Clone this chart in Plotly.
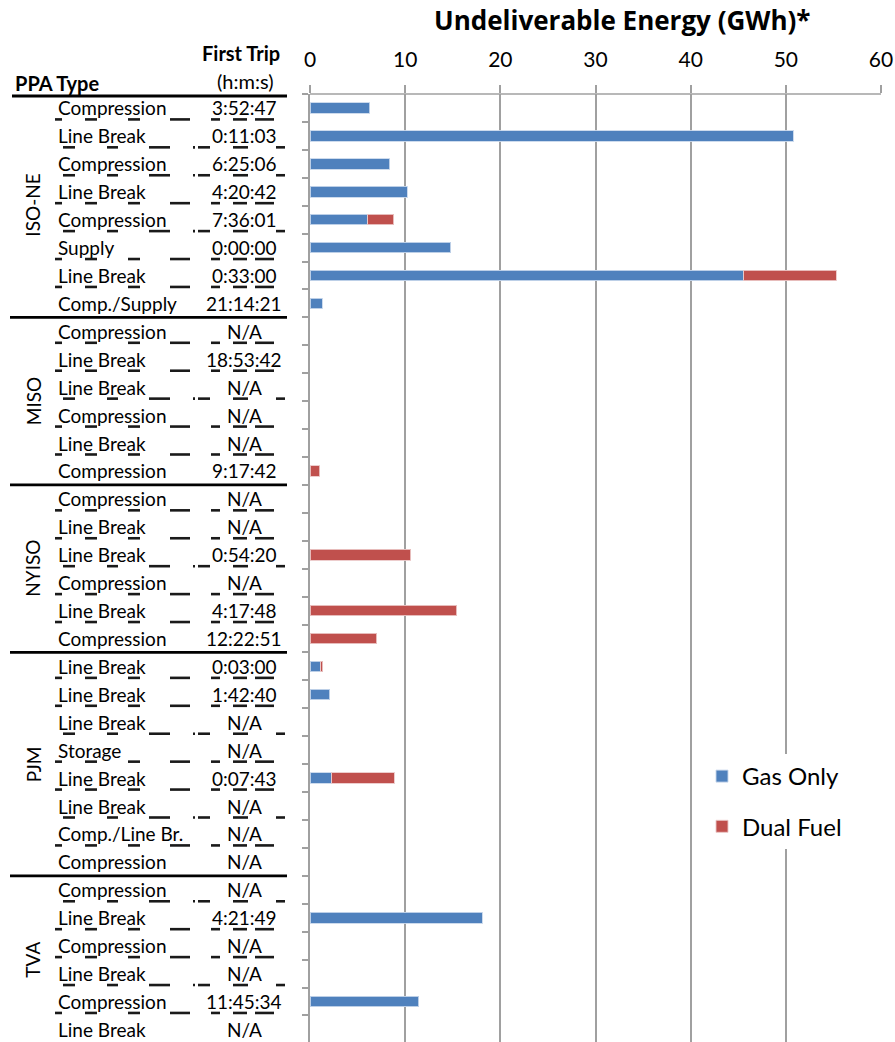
import plotly.graph_objects as go

# ---------------- data ----------------
groups = ["ISO-NE", "MISO", "NYISO", "PJM", "TVA"]
group_sizes = [8, 6, 6, 8, 6]
ppa_types = [
    "Compression", "Line Break", "Compression", "Line Break", "Compression", "Supply", "Line Break", "Comp./Supply",
    "Compression", "Line Break", "Line Break", "Compression", "Line Break", "Compression",
    "Compression", "Line Break", "Line Break", "Compression", "Line Break", "Compression",
    "Line Break", "Line Break", "Line Break", "Storage", "Line Break", "Line Break", "Comp./Line Br.", "Compression",
    "Compression", "Line Break", "Compression", "Line Break", "Compression", "Line Break",
]
first_trip = [
    "3:52:47", "0:11:03", "6:25:06", "4:20:42", "7:36:01", "0:00:00", "0:33:00", "21:14:21",
    "N/A", "18:53:42", "N/A", "N/A", "N/A", "9:17:42",
    "N/A", "N/A", "0:54:20", "N/A", "4:17:48", "12:22:51",
    "0:03:00", "1:42:40", "N/A", "N/A", "0:07:43", "N/A", "N/A", "N/A",
    "N/A", "4:21:49", "N/A", "N/A", "11:45:34", "N/A",
]
gas_only = [
    6.3, 50.8, 8.4, 10.2, 6.05, 14.8, 45.6, 1.3,
    0, 0, 0, 0, 0, 0,
    0, 0, 0, 0, 0, 0,
    1.15, 2.1, 0, 0, 2.3, 0, 0, 0,
    0, 18.1, 0, 0, 11.45, 0,
]
dual_fuel = [
    0, 0, 0, 0, 2.75, 0, 9.7, 0,
    0, 0, 0, 0, 0, 1.05,
    0, 0, 10.6, 0, 15.4, 7.0,
    0.17, 0, 0, 0, 6.55, 0, 0, 0,
    0, 0, 0, 0, 0, 0,
]
x_ticks = [0, 10, 20, 30, 40, 50, 60]
# underline dash pattern per row ("A", "B" or None)
dash_pattern = [
    "A", "B", "B", "A", "B", "A", "A", None,
    "A", "A", "B", "A", "A", None,
    "A", "A", "B", "A", "A", None,
    "A", "A", "B", "A", "A", "B", "A", None,
    "B", "A", "A", "B", "A", None,
]

# ---------------- layout constants ----------------
W, H = 895, 1042
ML, MR, MT, MB = 310, 14, 94, 0
PW = W - ML - MR
PH = H - MT - MB
FONT = "Lato, 'Open sans', sans-serif"
TFONT = "'Open Sans', sans-serif"
BLUE = "#4F81BD"
RED = "#C0504D"
GRID = "#A0A0A0"

def px_to_xpaper(px):
    return (px - ML) / PW

def py_to_ypaper(py):
    return (H - MB - py) / PH

idx = list(range(len(ppa_types)))

fig = go.Figure()
fig.add_trace(go.Bar(
    y=idx, x=[v if v else None for v in gas_only], orientation="h", name="Gas Only",
    marker=dict(color=BLUE, line=dict(color="rgba(200,215,235,0.9)", width=1)),
    legendgroup="g1",
))
fig.add_trace(go.Bar(
    y=idx, x=[v if v else None for v in dual_fuel], orientation="h", name="Dual Fuel",
    marker=dict(color=RED, line=dict(color="rgba(235,200,200,0.9)", width=1)),
    legendgroup="g2",
))

annotations = []
shapes = []

# row labels
for i, (t, ft) in enumerate(zip(ppa_types, first_trip)):
    annotations.append(dict(x=px_to_xpaper(56), y=i, xref="paper", yref="y", text=t,
                            showarrow=False, xanchor="left", yanchor="middle",
                            font=dict(family=FONT, size=19, color="#000")))
    annotations.append(dict(x=px_to_xpaper(244), y=i, xref="paper", yref="y", text=ft,
                            showarrow=False, xanchor="center", yanchor="middle",
                            font=dict(family=FONT, size=19, color="#000")))

# underline dashes
SEG_A = [(55, 62), (85, 97), (128, 140), (170, 190), (211, 220), (233, 247), (255, 274)]
SEG_B = [(63, 75), (107, 118), (149, 170), (193, 195), (198, 210), (233, 248), (276, 285)]
for i, p in enumerate(dash_pattern):
    if p is None:
        continue
    segs = SEG_A if p == "A" else SEG_B
    for a, b in segs:
        shapes.append(dict(type="line", xref="paper", yref="y",
                           x0=px_to_xpaper(a), x1=px_to_xpaper(b), y0=i + 0.41, y1=i + 0.41,
                           line=dict(color="#1a1a1a", width=2.6)))

# group labels and separators
start = 0
for g, n in zip(groups, group_sizes):
    annotations.append(dict(x=px_to_xpaper(33), y=start + (n - 1) / 2, xref="paper", yref="y",
                            text=g, showarrow=False, textangle=-90, xanchor="center", yanchor="middle",
                            font=dict(family=FONT, size=19, color="#000")))
    end = start + n
    if end < len(ppa_types):
        shapes.append(dict(type="line", xref="paper", yref="y",
                           x0=px_to_xpaper(10), x1=px_to_xpaper(287), y0=end - 0.5, y1=end - 0.5,
                           line=dict(color="#000", width=2.8)))
    start = end

# header line
shapes.append(dict(type="line", xref="paper", yref="paper",
                   x0=px_to_xpaper(12), x1=px_to_xpaper(287), y0=py_to_ypaper(96), y1=py_to_ypaper(96),
                   line=dict(color="#000", width=2.8)))
# top axis line of the plot area
shapes.append(dict(type="line", xref="paper", yref="paper", x0=0, x1=1, y0=1, y1=1,
                   line=dict(color=GRID, width=1.6)))

# headers
annotations += [
    dict(x=px_to_xpaper(13), y=py_to_ypaper(83), xref="paper", yref="paper", text="<b>PPA Type</b>",
         showarrow=False, xanchor="left", yanchor="middle", font=dict(family=FONT, size=20, color="#000")),
    dict(x=px_to_xpaper(241), y=py_to_ypaper(53), xref="paper", yref="paper", text="<b>First Trip</b>",
         showarrow=False, xanchor="center", yanchor="middle", font=dict(family=FONT, size=20, color="#000")),
    dict(x=px_to_xpaper(245), y=py_to_ypaper(81), xref="paper", yref="paper", text="(h:m:s)",
         showarrow=False, xanchor="center", yanchor="middle", font=dict(family=FONT, size=20, color="#000")),
    dict(x=px_to_xpaper(622), y=py_to_ypaper(20), xref="paper", yref="paper",
         text="<b>Undeliverable Energy (GWh)*</b>",
         showarrow=False, xanchor="center", yanchor="middle", font=dict(family=TFONT, size=26, color="#000")),
]

fig.update_layout(
    width=W, height=H,
    margin=dict(l=ML, r=MR, t=MT, b=MB, pad=0),
    barmode="stack", bargap=0.62,
    plot_bgcolor="#fff", paper_bgcolor="#fff",
    font=dict(family=FONT, color="#000"),
    showlegend=True,
    legend=dict(x=px_to_xpaper(702), y=py_to_ypaper(754), xanchor="left", yanchor="top",
                bgcolor="#fff", font=dict(family=FONT, size=24, color="#000"),
                tracegroupgap=16, traceorder="grouped", itemwidth=30),
    annotations=annotations,
    shapes=shapes,
)
fig.update_xaxes(
    side="top", range=[0, 60], tickvals=x_ticks, ticktext=[str(v) for v in x_ticks],
    showgrid=True, gridcolor=GRID, gridwidth=1.6,
    showline=False,
    ticks="outside", ticklen=8, tickcolor=GRID, tickwidth=1.6,
    tickfont=dict(family=FONT, size=21, color="#000"), ticklabelstandoff=10,
    zeroline=False, automargin=False,
)
fig.update_yaxes(
    type="category", autorange=False, range=[33.45, -0.5],
    tickvals=idx, showticklabels=False,
    tickson="boundaries", ticks="outside", ticklen=6, tickcolor=GRID, tickwidth=1.6,
    showline=True, linecolor=GRID, linewidth=1.6,
    showgrid=False, zeroline=False, automargin=False,
)

fig.write_html("out.html", config={"displayModeBar": False},
               post_script="document.body.style.margin='0';document.body.style.overflow='hidden';")
